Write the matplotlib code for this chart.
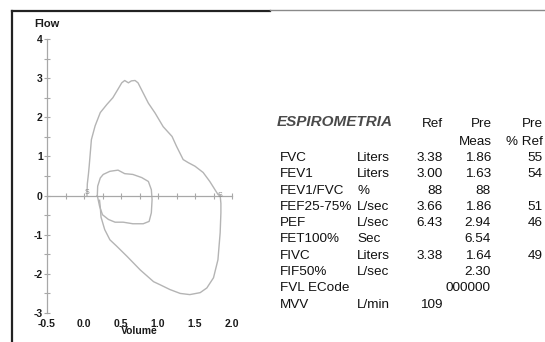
import matplotlib
matplotlib.use("Agg")
import matplotlib.pyplot as plt
from matplotlib.lines import Line2D
from matplotlib.ticker import MultipleLocator

plt.rcParams["font.family"] = ["Liberation Sans", "DejaVu Sans"]
plt.rcParams["axes.unicode_minus"] = False

# forced expiration (volume L, flow L/s)
exp_volume = [0.04, 0.045, 0.06, 0.07, 0.10, 0.15, 0.22, 0.31, 0.39, 0.46, 0.51,
              0.55, 0.60, 0.64, 0.69, 0.73, 0.80, 0.87, 0.96, 1.07, 1.19, 1.25,
              1.34, 1.41, 1.50, 1.61, 1.70, 1.77, 1.81, 1.84]
exp_flow = [0.0, 0.3, 0.55, 0.75, 1.43, 1.78, 2.12, 2.33, 2.50, 2.72, 2.88,
            2.94, 2.88, 2.93, 2.94, 2.88, 2.62, 2.36, 2.11, 1.76, 1.51, 1.26,
            0.92, 0.84, 0.75, 0.59, 0.36, 0.15, 0.03, 0.0]

# forced inspiration
insp_volume = [1.84, 1.85, 1.85, 1.84, 1.81, 1.75, 1.66, 1.57, 1.43, 1.30, 1.16,
               1.03, 0.94, 0.76, 0.58, 0.44, 0.35, 0.28, 0.23, 0.22, 0.21]
insp_flow = [0.0, -0.2, -0.44, -0.95, -1.64, -2.10, -2.36, -2.48, -2.53, -2.50,
             -2.40, -2.28, -2.20, -1.90, -1.55, -1.29, -1.13, -0.87, -0.55, -0.30, -0.12]

# tidal breathing loop
tidal_volume = [0.18, 0.185, 0.22, 0.26, 0.35, 0.46, 0.55, 0.66, 0.78, 0.87, 0.91,
                0.92, 0.91, 0.88, 0.80, 0.66, 0.53, 0.42, 0.33, 0.25, 0.21, 0.18]
tidal_flow = [0.0, 0.24, 0.45, 0.54, 0.62, 0.65, 0.56, 0.54, 0.46, 0.36, 0.15,
              -0.10, -0.44, -0.66, -0.72, -0.72, -0.68, -0.68, -0.61, -0.49, -0.27, 0.0]

x_ticks = [-0.5, 0.0, 0.5, 1.0, 1.5, 2.0]
y_ticks = [-3, -2, -1, 0, 1, 2, 3, 4]

# spirometry results table
table_title = "ESPIROMETRIA"
params = ["FVC", "FEV1", "FEV1/FVC", "FEF25-75%", "PEF", "FET100%", "FIVC",
          "FIF50%", "FVL ECode", "MVV"]
units = ["Liters", "Liters", "%", "L/sec", "L/sec", "Sec", "Liters", "L/sec", "", "L/min"]
ref_vals = ["3.38", "3.00", "88", "3.66", "6.43", "", "3.38", "", "", "109"]
meas_vals = ["1.86", "1.63", "88", "1.86", "2.94", "6.54", "1.64", "2.30", "000000", ""]
pct_vals = ["55", "54", "", "51", "46", "", "49", "", "", ""]

W, H = 545, 342
fig = plt.figure(figsize=(W / 100, H / 100), dpi=100)
fig.patch.set_facecolor("white")


def fx(px):
    return px / W


def fy(py):
    return 1 - py / H


# page frame
fig.add_artist(Line2D([fx(12), fx(12)], [fy(11), fy(342)], color="#222222", lw=1.6))
fig.add_artist(Line2D([fx(12), fx(270)], [fy(11), fy(11)], color="#222222", lw=1.6))
fig.add_artist(Line2D([fx(270), fx(545)], [fy(10), fy(10)], color="#8a8a8a", lw=1.0))

ax = fig.add_axes([fx(47), fy(313), fx(232) - fx(47), fy(39) - fy(313)])
ax.set_xlim(-0.5, 2.0)
ax.set_ylim(-3, 4)
ax.patch.set_alpha(0)

axis_grey = "#a8a8a8"
loop_grey = "#b4b4b4"
label_col = "#1a1a1a"

for side in ["top", "right"]:
    ax.spines[side].set_visible(False)
ax.spines["left"].set_color(axis_grey)
ax.spines["left"].set_linewidth(0.9)
ax.spines["bottom"].set_position(("data", 0))
ax.spines["bottom"].set_color(axis_grey)
ax.spines["bottom"].set_linewidth(0.9)

ax.xaxis.set_major_locator(MultipleLocator(0.25))
ax.tick_params(axis="x", direction="inout", length=4, width=0.8, colors=axis_grey,
               labelbottom=False)
ax.set_yticks(y_ticks)
ax.yaxis.set_minor_locator(MultipleLocator(0.5))
ax.tick_params(axis="y", which="both", direction="inout", length=4, width=0.8,
               color=axis_grey, labelcolor=label_col, labelsize=7.5, pad=1)
for lab in ax.get_yticklabels():
    lab.set_fontweight("bold")

# volume labels sit along the bottom edge
sec = ax.secondary_xaxis(0)
sec.set_xticks(x_ticks)
sec.set_xticklabels([f"{v:.1f}" for v in x_ticks], fontweight="bold", fontsize=7.5,
                    color=label_col)
sec.tick_params(length=0, pad=4)
sec.spines["bottom"].set_visible(False)
sec.set_xlabel("Volume", fontsize=7.5, fontweight="bold", color=label_col, labelpad=-2)

ax.text(0.0, 1.055, "Flow", transform=ax.transAxes, ha="center", va="center",
        fontsize=8, fontweight="bold", color=label_col)

ax.plot(exp_volume, exp_flow, color=loop_grey, lw=1.0)
ax.plot(insp_volume, insp_flow, color=loop_grey, lw=1.0)
ax.plot(tidal_volume, tidal_flow, color=loop_grey, lw=1.0)
ax.text(exp_volume[0], exp_flow[0], "S", fontsize=5, color="#888888",
        ha="center", va="bottom")
ax.text(exp_volume[-1], exp_flow[-1], "S", fontsize=5, color="#888888",
        ha="center", va="center")

# results table
txt = dict(fontsize=9.7, color="#111111", va="center")
fig.text(fx(277), fy(122), table_title, fontsize=11, fontweight="bold",
         fontstyle="italic", color="#4a4a4a", va="center")
fig.text(fx(443), fy(124), "Ref", ha="right", **txt)
fig.text(fx(492), fy(124), "Pre", ha="right", **txt)
fig.text(fx(543), fy(124), "Pre", ha="right", **txt)
fig.text(fx(492), fy(142), "Meas", ha="right", **txt)
fig.text(fx(543), fy(142), "% Ref", ha="right", **txt)

row0, step = 158, 16.3
for i, name in enumerate(params):
    y = fy(row0 + i * step)
    fig.text(fx(280), y, name, ha="left", **txt)
    fig.text(fx(357), y, units[i], ha="left", **txt)
    fig.text(fx(443), y, ref_vals[i], ha="right", **txt)
    fig.text(fx(491), y, meas_vals[i], ha="right", **txt)
    fig.text(fx(543), y, pct_vals[i], ha="right", **txt)

fig.savefig("out.png", dpi=100, facecolor="white")
